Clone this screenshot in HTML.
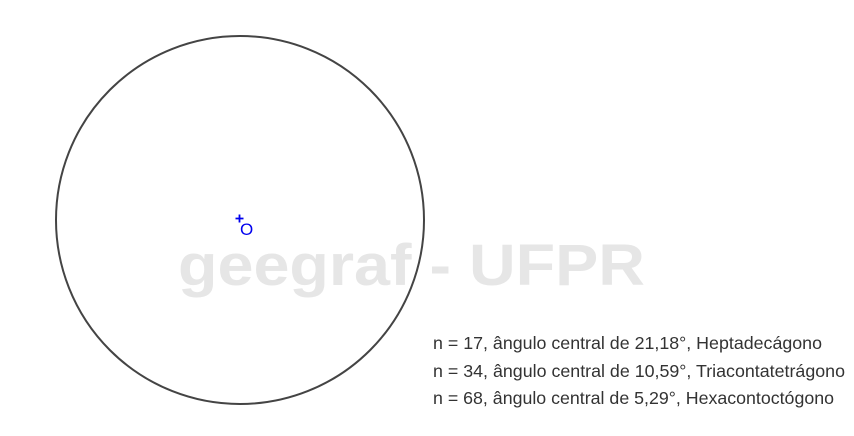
<!DOCTYPE html>
<html><head><meta charset="utf-8"><style>
html,body{margin:0;padding:0;background:#fff;}
</style></head><body>
<svg width="854" height="436" xmlns="http://www.w3.org/2000/svg" style="display:block">
<text x="178" y="285" textLength="467" lengthAdjust="spacingAndGlyphs" font-family="Liberation Sans, sans-serif" font-weight="bold" font-size="58" fill="#e6e6e6">geegraf - UFPR</text>
<circle cx="240" cy="220" r="184" fill="none" stroke="#444" stroke-width="2"/>
<path d="M235.5 218.5h8M239.5 214.5v8" stroke="#0000ee" stroke-width="1.8"/>
<text x="240" y="235" font-family="Liberation Sans, sans-serif" font-size="17" fill="#0000ee">O</text>
<g font-family="Liberation Sans, sans-serif" font-size="17.5" fill="#333">
<text x="433" y="349" textLength="389" lengthAdjust="spacingAndGlyphs">n = 17, ângulo central de 21,18°, Heptadecágono</text>
<text x="433" y="377" textLength="412" lengthAdjust="spacingAndGlyphs">n = 34, ângulo central de 10,59°, Triacontatetrágono</text>
<text x="433" y="404" textLength="401" lengthAdjust="spacingAndGlyphs">n = 68, ângulo central de 5,29°, Hexacontoctógono</text>
</g>
</svg>
</body></html>
